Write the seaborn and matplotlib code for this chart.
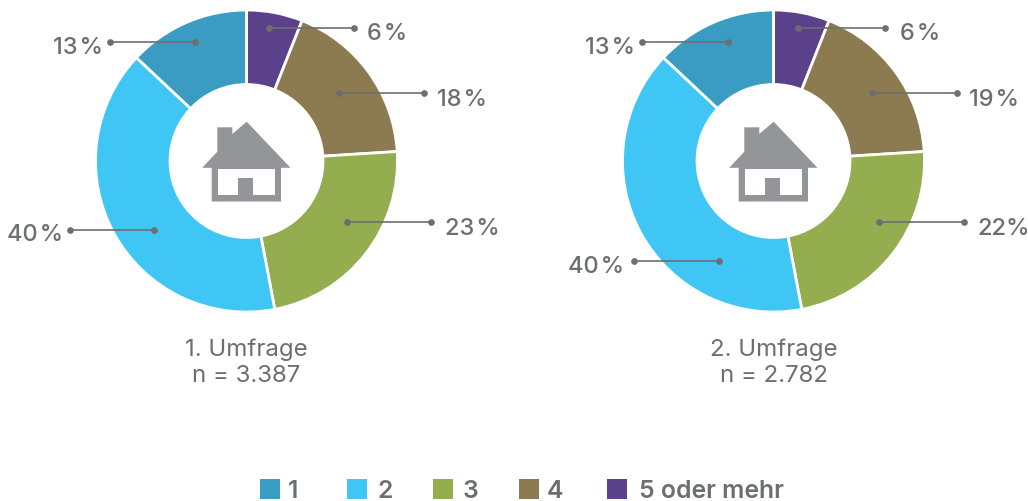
import matplotlib
matplotlib.use("Agg")
import matplotlib.pyplot as plt
from matplotlib.patches import Polygon, Rectangle
import seaborn as sns

categories = ["1", "2", "3", "4", "5 oder mehr"]
colors = ["#3B9CC3", "#40C6F5", "#93AD4F", "#8C7B50", "#5A418A"]
# slice sizes as drawn, clockwise from the top: 5 oder mehr, 4, 3, 2, 1
slices_1 = [6, 18, 23, 40, 13]
slices_2 = [6, 18, 23, 40, 13]
labels_1 = ["6\u200a%", "18\u200a%", "23\u200a%", "40\u200a%", "13\u200a%"]
labels_2 = ["6\u200a%", "19\u200a%", "22%", "40\u200a%", "13\u200a%"]
titles_a = ["1. Umfrage", "2. Umfrage"]
titles_b = ["n = 3.387", "n = 2.782"]

sns.set_theme(style="white")
plt.rcParams["font.family"] = ["Inter", "DejaVu Sans"]
TEXT = "#6D6E71"
W, H = 1028, 502

fig = plt.figure(figsize=(W / 100, H / 100), dpi=100)
ax = fig.add_axes([0, 0, 1, 1])


def Y(y):
    return H - y - 1


def donut(cx, values, pal):
    ax.pie(values, colors=pal, center=(cx, Y(161)), radius=151, startangle=90,
           counterclock=False, frame=False,
           wedgeprops=dict(width=74.5, edgecolor="white", linewidth=2))


def house(dx):
    c = "#939598"
    pts = [(246.7, 121.7), (290.5, 167.8), (281, 167.8), (281, 201.5), (211.7, 201.5),
           (211.7, 167.8), (202.2, 167.8), (217.3, 151.7), (217.3, 127.3), (232.3, 127.3),
           (232.3, 134)]
    ax.add_patch(Polygon([(x + dx, Y(y)) for x, y in pts], fc=c, ec="none", zorder=3))
    win = [(218.3, 168.8), (275, 168.8), (275, 195.2), (253.3, 195.2), (253.3, 178),
           (238, 178), (238, 195.2), (218.3, 195.2)]
    ax.add_patch(Polygon([(x + dx, Y(y)) for x, y in win], fc="white", ec="none", zorder=4))


def leader(x0, x1, y, text, tx, ty, ha):
    ax.plot([x0, x1], [Y(y), Y(y)], color=TEXT, lw=1.2, marker="o", ms=3.8, zorder=5,
            solid_capstyle="butt")
    ax.text(tx, Y(ty), text, ha=ha, va="center", fontsize=17, color=TEXT, zorder=5,
            fontweight="medium")


order = [4, 3, 2, 1, 0]  # categories clockwise from the top
donut(246.5, slices_1, [colors[i] for i in order])
donut(773.5, slices_2, [colors[i] for i in order])
house(0)
house(527)

leader(269, 354, 28, labels_1[0], 367, 33, "left")
leader(339, 424, 93, labels_1[1], 437, 99, "left")
leader(347, 431, 222, labels_1[2], 445, 228, "left")
leader(70, 154, 229.5, labels_1[3], 63, 234, "right")
leader(110, 195, 42, labels_1[4], 103, 47, "right")

leader(798, 885, 28, labels_2[0], 900, 33, "left")
leader(872, 957, 93, labels_2[1], 969, 99, "left")
leader(879, 964, 222, labels_2[2], 977, 228, "left")
leader(634, 719, 261, labels_2[3], 624, 266, "right")
leader(642, 728, 42, labels_2[4], 635, 47, "right")

for cx, a, b in zip((246.5, 773.5), titles_a, titles_b):
    ax.text(cx, Y(349), a, ha="center", va="center", fontsize=17.3, color=TEXT)
    ax.text(cx, Y(375), b, ha="center", va="center", fontsize=17.3, color=TEXT)

for cat, col, bx, tx in zip(categories, colors, (260, 347, 433, 519, 607), (288, 377, 463, 547, 639)):
    ax.add_patch(Rectangle((bx, Y(499)), 20, 20, fc=col, ec="none"))
    ax.text(tx, Y(491), cat, ha="left", va="center", fontsize=17.8, color=TEXT, fontweight="semibold")

ax.set_xlim(0, W)
ax.set_ylim(0, H)
ax.set_aspect("equal")
ax.axis("off")
fig.savefig("out.png", dpi=100, facecolor="white")
